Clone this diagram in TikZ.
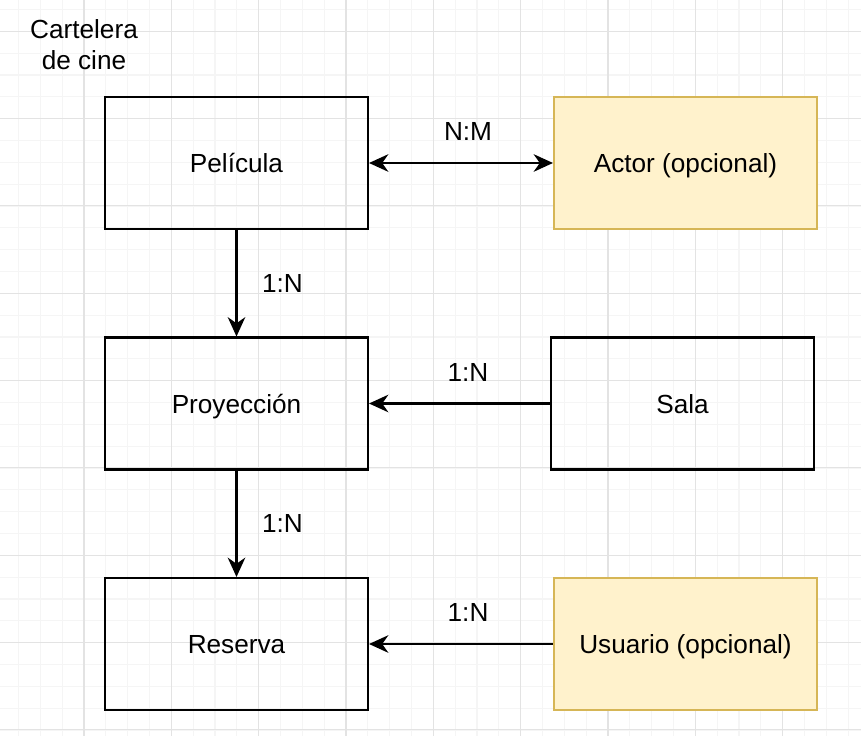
\documentclass[tikz,border=0pt]{standalone}
\usepackage{fontspec}
\setmainfont{Liberation Sans}
\usetikzlibrary{arrows.meta}
\definecolor{optfill}{HTML}{FFF2CC}
\definecolor{optline}{HTML}{D6B656}
\definecolor{gridminor}{HTML}{F5F5F5}
\definecolor{gridmajor}{HTML}{E3E3E3}

\begin{document}
\begin{tikzpicture}[x=0.02cm,y=-0.02cm,font=\fontsize{14.9}{17.6}\selectfont,
  >={Stealth[length=11pt,width=10pt,inset=3.5pt]},
  ent/.style={draw,line width=1.2pt,minimum width=5.26cm,minimum height=2.64cm,inner sep=0pt,text height=11pt,text depth=0pt},
  opt/.style={ent,draw=optline,fill=optfill},
  rel/.style={line width=1.2pt},
  card/.style={inner sep=0pt}]
\useasboundingbox[fill=white] (0,0) rectangle (861,736);
\foreach \i in {0,...,38} \draw[gridminor,line width=0.6pt] ({18.5+21.833*\i},0) -- ++(0,736);
\foreach \i in {0,...,33} \draw[gridminor,line width=0.6pt] (0,{9.5+21.833*\i}) -- ++(861,0);
\foreach \i in {0,...,8} \draw[gridmajor,line width=0.6pt] ({84+87.33*\i},0) -- ++(0,736);
\foreach \i in {0,...,8} \draw[gridmajor,line width=0.6pt] (0,{31.3+87.33*\i}) -- ++(861,0);

\node[align=center] (titulo) at (84,45) {Cartelera\\de cine};
\node[ent] (pel) at (236.5,163) {Película};
\node[opt] (actor) at (685.5,163) {Actor (opcional)};
\node[ent] (proy) at (236.5,403.5) {Proyección};
\node[ent] (sala) at (682.5,403.5) {Sala};
\node[ent] (res) at (236.5,644) {Reserva};
\node[opt] (usu) at (685.5,644) {Usuario (opcional)};

\draw[rel,<->] (pel) -- (actor) node[card,midway,above=12pt,xshift=4pt] {N:M};
\draw[rel,->] (pel) -- (proy) node[card,midway,right=14pt] {1:N};
\draw[rel,->] (sala) -- (proy) node[card,midway,above=12pt,xshift=4.8pt] {1:N};
\draw[rel,->] (proy) -- (res) node[card,midway,right=14pt] {1:N};
\draw[rel,->] (usu) -- (res) node[card,midway,above=12pt,xshift=4pt] {1:N};
\end{tikzpicture}
\end{document}
